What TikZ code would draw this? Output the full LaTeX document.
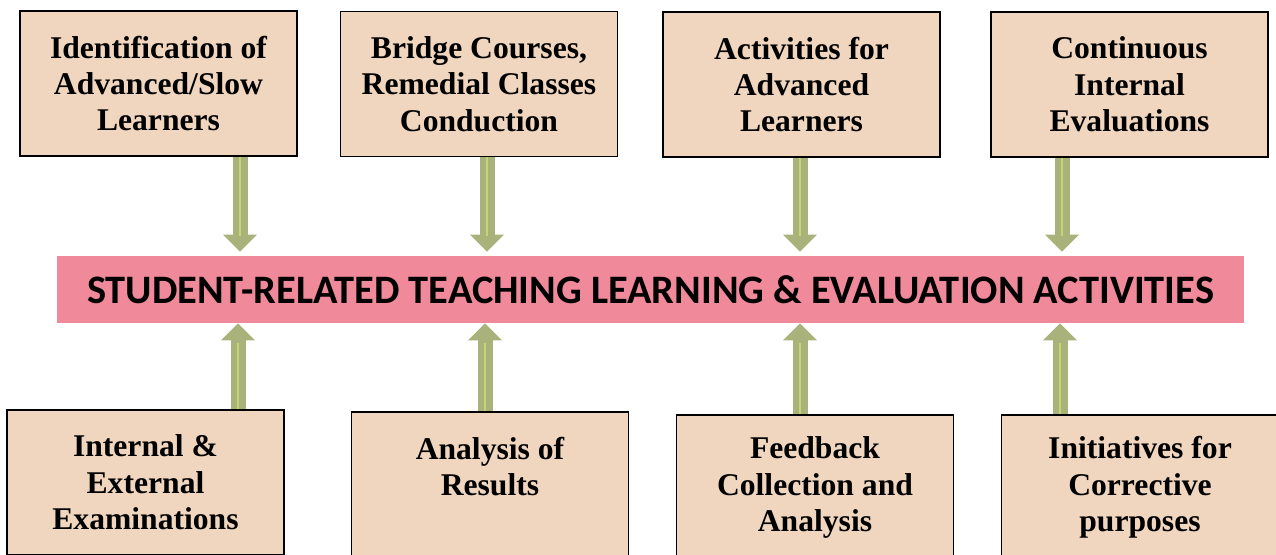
\documentclass[tikz,border=0pt]{standalone}
\usepackage{fontspec}
\setmainfont{Liberation Serif}
\newfontfamily\bandfont{Carlito}
\usetikzlibrary{arrows.meta,positioning}

\definecolor{boxtan}{RGB}{240,214,190}
\definecolor{bandpink}{RGB}{240,138,155}
\definecolor{feedgreen}{RGB}{168,178,122}
\definecolor{feedlight}{RGB}{200,212,112}

\begin{document}
\begin{tikzpicture}[x=0.02cm,y=-0.02cm,
    box/.style={draw=black,fill=boxtan,line width=0.8pt,align=center,
        minimum width=5.54cm,minimum height=2.9cm,inner sep=0pt,
        font=\bfseries\fontsize{18}{20.7}\selectfont},
    band/.style={fill=bandpink,minimum width=23.74cm,minimum height=1.34cm,
        inner sep=0pt,font=\bandfont\bfseries\fontsize{23}{27}\selectfont},
    feed/.style={draw=feedgreen,line width=0.3cm,
        -{Triangle[width=0.66cm,length=0.34cm]}},
    stripe/.style={draw=feedlight,line width=0.05cm,shorten >=0.4cm}]
    \useasboundingbox (0,0) rectangle (1276,555);

    % centre band
    \node[band] (band) at (650.5,289.5) {STUDENT-RELATED TEACHING LEARNING \& EVALUATION ACTIVITIES};

    % upper row
    \node[box] (ident)  at (158.5,83.5) {Identification of\\Advanced/Slow\\Learners};
    \node[box] (bridge) at (479,84)     {Bridge Courses,\\Remedial Classes\\Conduction};
    \node[box] (advact) at (801.5,84.5) {Activities for\\Advanced\\Learners};
    \node[box] (cie)    at (1129.5,84.5){Continuous\\Internal\\Evaluations};

    % lower row
    \node[box] (exam)   at (145.5,482.5){Internal \&\\External\\Examinations};
    \node[box] (result) at (490,484.5)  {Analysis of\\Results\\~};
    \node[box] (feedbk) at (815,487.5)  {Feedback\\Collection and\\Analysis};
    \node[box] (correc) at (1140,487.5) {Initiatives for\\Corrective\\purposes};

    \coordinate (a1) at (240,0);
    \coordinate (a2) at (487,0);
    \coordinate (a3) at (800,0);
    \coordinate (a4) at (1062,0);
    \coordinate (a5) at (238,0);
    \coordinate (a6) at (485,0);
    \coordinate (a7) at (800,0);
    \coordinate (a8) at (1060,0);

    \path (ident.south -| a1)  edge[feed,shorten >=0.08cm] (band.north -| a1)
                               edge[stripe] (band.north -| a1)
          (bridge.south -| a2) edge[feed,shorten >=0.08cm] (band.north -| a2)
                               edge[stripe] (band.north -| a2)
          (advact.south -| a3) edge[feed,shorten >=0.08cm] (band.north -| a3)
                               edge[stripe] (band.north -| a3)
          (cie.south -| a4)    edge[feed,shorten >=0.08cm] (band.north -| a4)
                               edge[stripe] (band.north -| a4);
    \path (exam.north -| a5)   edge[feed] (band.south -| a5)
                               edge[stripe] (band.south -| a5)
          (result.north -| a6) edge[feed] (band.south -| a6)
                               edge[stripe] (band.south -| a6)
          (feedbk.north -| a7) edge[feed] (band.south -| a7)
                               edge[stripe] (band.south -| a7)
          (correc.north -| a8) edge[feed] (band.south -| a8)
                               edge[stripe] (band.south -| a8);
\end{tikzpicture}
\end{document}
